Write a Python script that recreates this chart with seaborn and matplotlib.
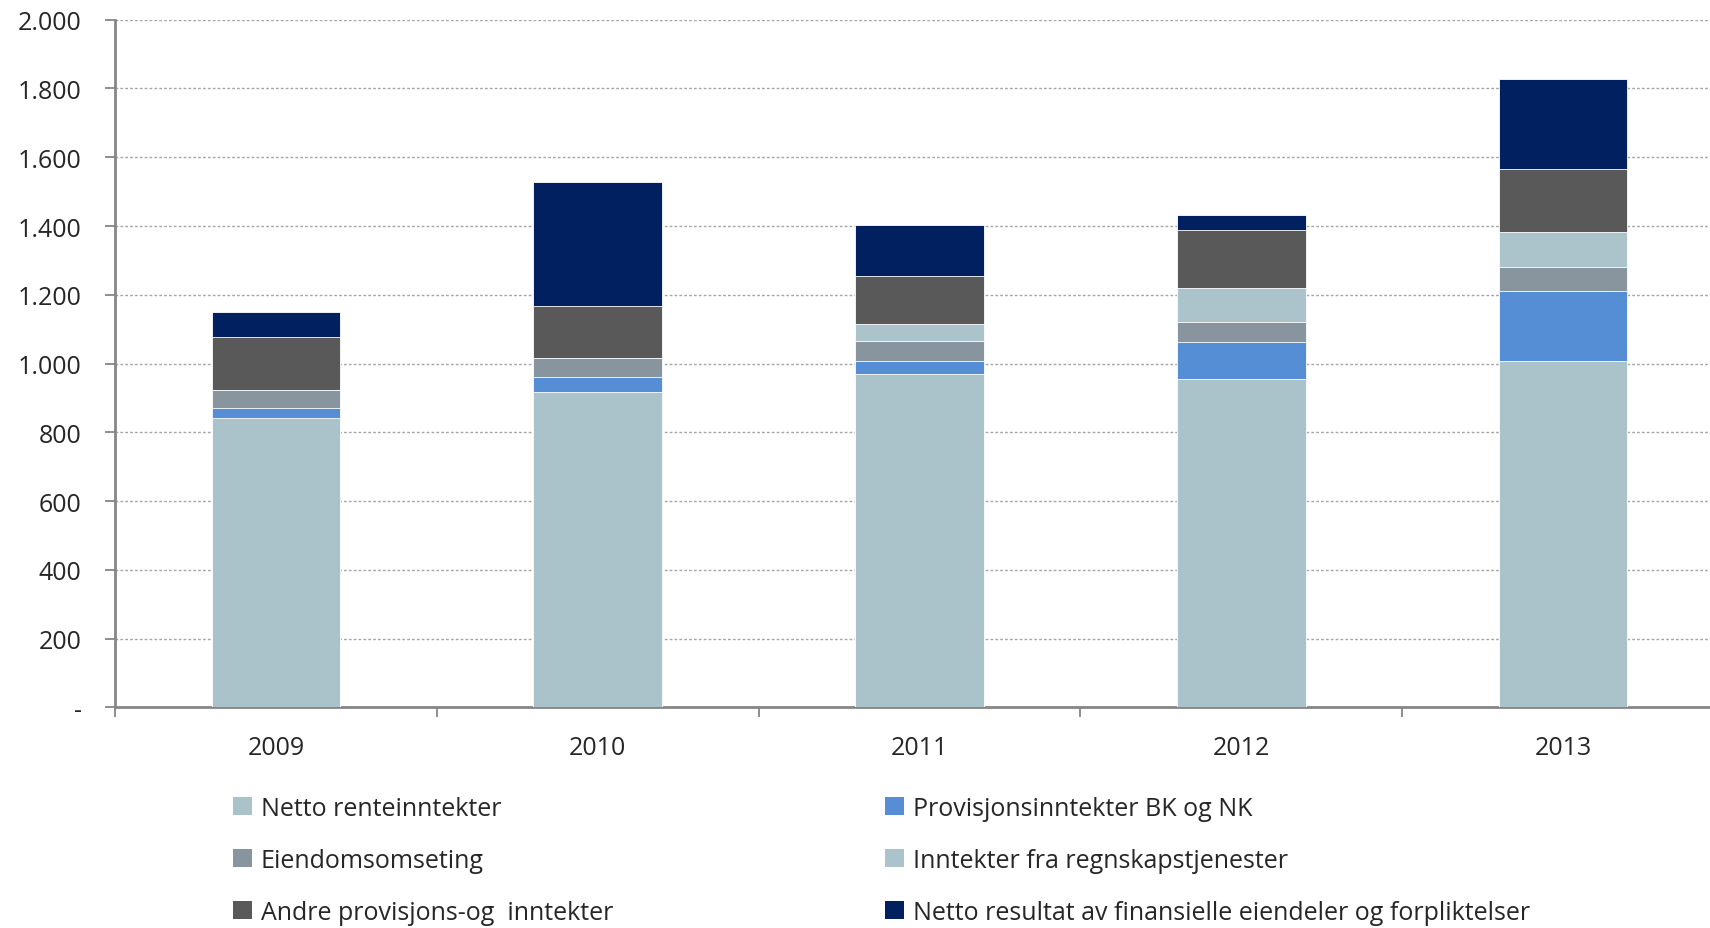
import numpy as np
import pandas as pd
import seaborn as sns
import matplotlib.pyplot as plt
from matplotlib.patches import Patch
from matplotlib.ticker import FuncFormatter, MultipleLocator

sns.set_style('white')
plt.rcParams['font.family'] = ['Open Sans', 'DejaVu Sans']

# data
years = ['2009', '2010', '2011', '2012', '2013']
netto_rente = [842, 917, 969, 955, 1007]
provisjon_bk_nk = [28, 44, 39, 107, 205]
eiendom = [53, 55, 58, 59, 69]
regnskap = [0, 0, 49, 100, 102]
andre = [153, 152, 140, 168, 183]
finans = [73, 359, 148, 43, 263]

series = ['Netto renteinntekter', 'Provisjonsinntekter BK og NK', 'Eiendomsomseting',
          'Inntekter fra regnskapstjenester', 'Andre provisjons-og  inntekter',
          'Netto resultat av finansielle eiendeler og forpliktelser']
colors = ['#AAC3CA', '#558ED5', '#89959E', '#ABC3CA', '#595959', '#002060']

df = pd.DataFrame({'år': years, series[0]: netto_rente, series[1]: provisjon_bk_nk,
                   series[2]: eiendom, series[3]: regnskap, series[4]: andre, series[5]: finans})
cum = df[series].cumsum(axis=1)
cum['år'] = df['år']

fig = plt.figure(figsize=(17.1, 9.29), dpi=100)
# plot area runs a little past the right edge, as in the original
ax = fig.add_axes([0.0673, 0.2374, 0.9408, 0.7403])

# stacked bars: draw cumulative totals from the top of the stack down
for s, c in reversed(list(zip(series, colors))):
    sns.barplot(data=cum, x='år', y=s, order=years, color=c, width=0.40,
                saturation=1, edgecolor='white', linewidth=0.6, ax=ax, zorder=3)

ax.set_xlim(-0.5, 4.5)
ax.set_ylim(0, 2000)
ax.yaxis.set_major_locator(MultipleLocator(200))
ax.yaxis.set_major_formatter(FuncFormatter(
    lambda v, p: '-' if v == 0 else f'{int(v):,}'.replace(',', '.')))
ax.set_xlabel('')
ax.set_ylabel('')

ax.grid(axis='y', linestyle=(0, (2, 1.5)), color='#A6A6A6', linewidth=1, zorder=0)
ax.set_axisbelow(True)
for side in ['top', 'right']:
    ax.spines[side].set_visible(False)
for side in ['left', 'bottom']:
    ax.spines[side].set_color('#868686')
    ax.spines[side].set_linewidth(2)

ax.tick_params(axis='y', left=True, length=7, width=1.3, color='#868686',
               labelsize=18, pad=17)
ax.tick_params(axis='x', which='major', length=0, labelsize=18, pad=20)
ax.set_xticks(np.arange(-0.5, 5, 1), minor=True)
ax.tick_params(axis='x', which='minor', bottom=True, length=7, width=1.3, color='#868686')

# legend, row order like the original
handles = [Patch(facecolor=c, edgecolor='none') for c in colors]
order = [0, 2, 4, 1, 3, 5]
fig.legend([handles[i] for i in order], [series[i] for i in order],
           ncol=2, loc='upper left', bbox_to_anchor=(0.1363, 0.1426),
           frameon=False, fontsize=18, handlelength=0.75, handleheight=0.75,
           handletextpad=0.35, columnspacing=10.9, labelspacing=1.08,
           borderaxespad=0, borderpad=0)

plt.savefig('out.png', dpi=100)
